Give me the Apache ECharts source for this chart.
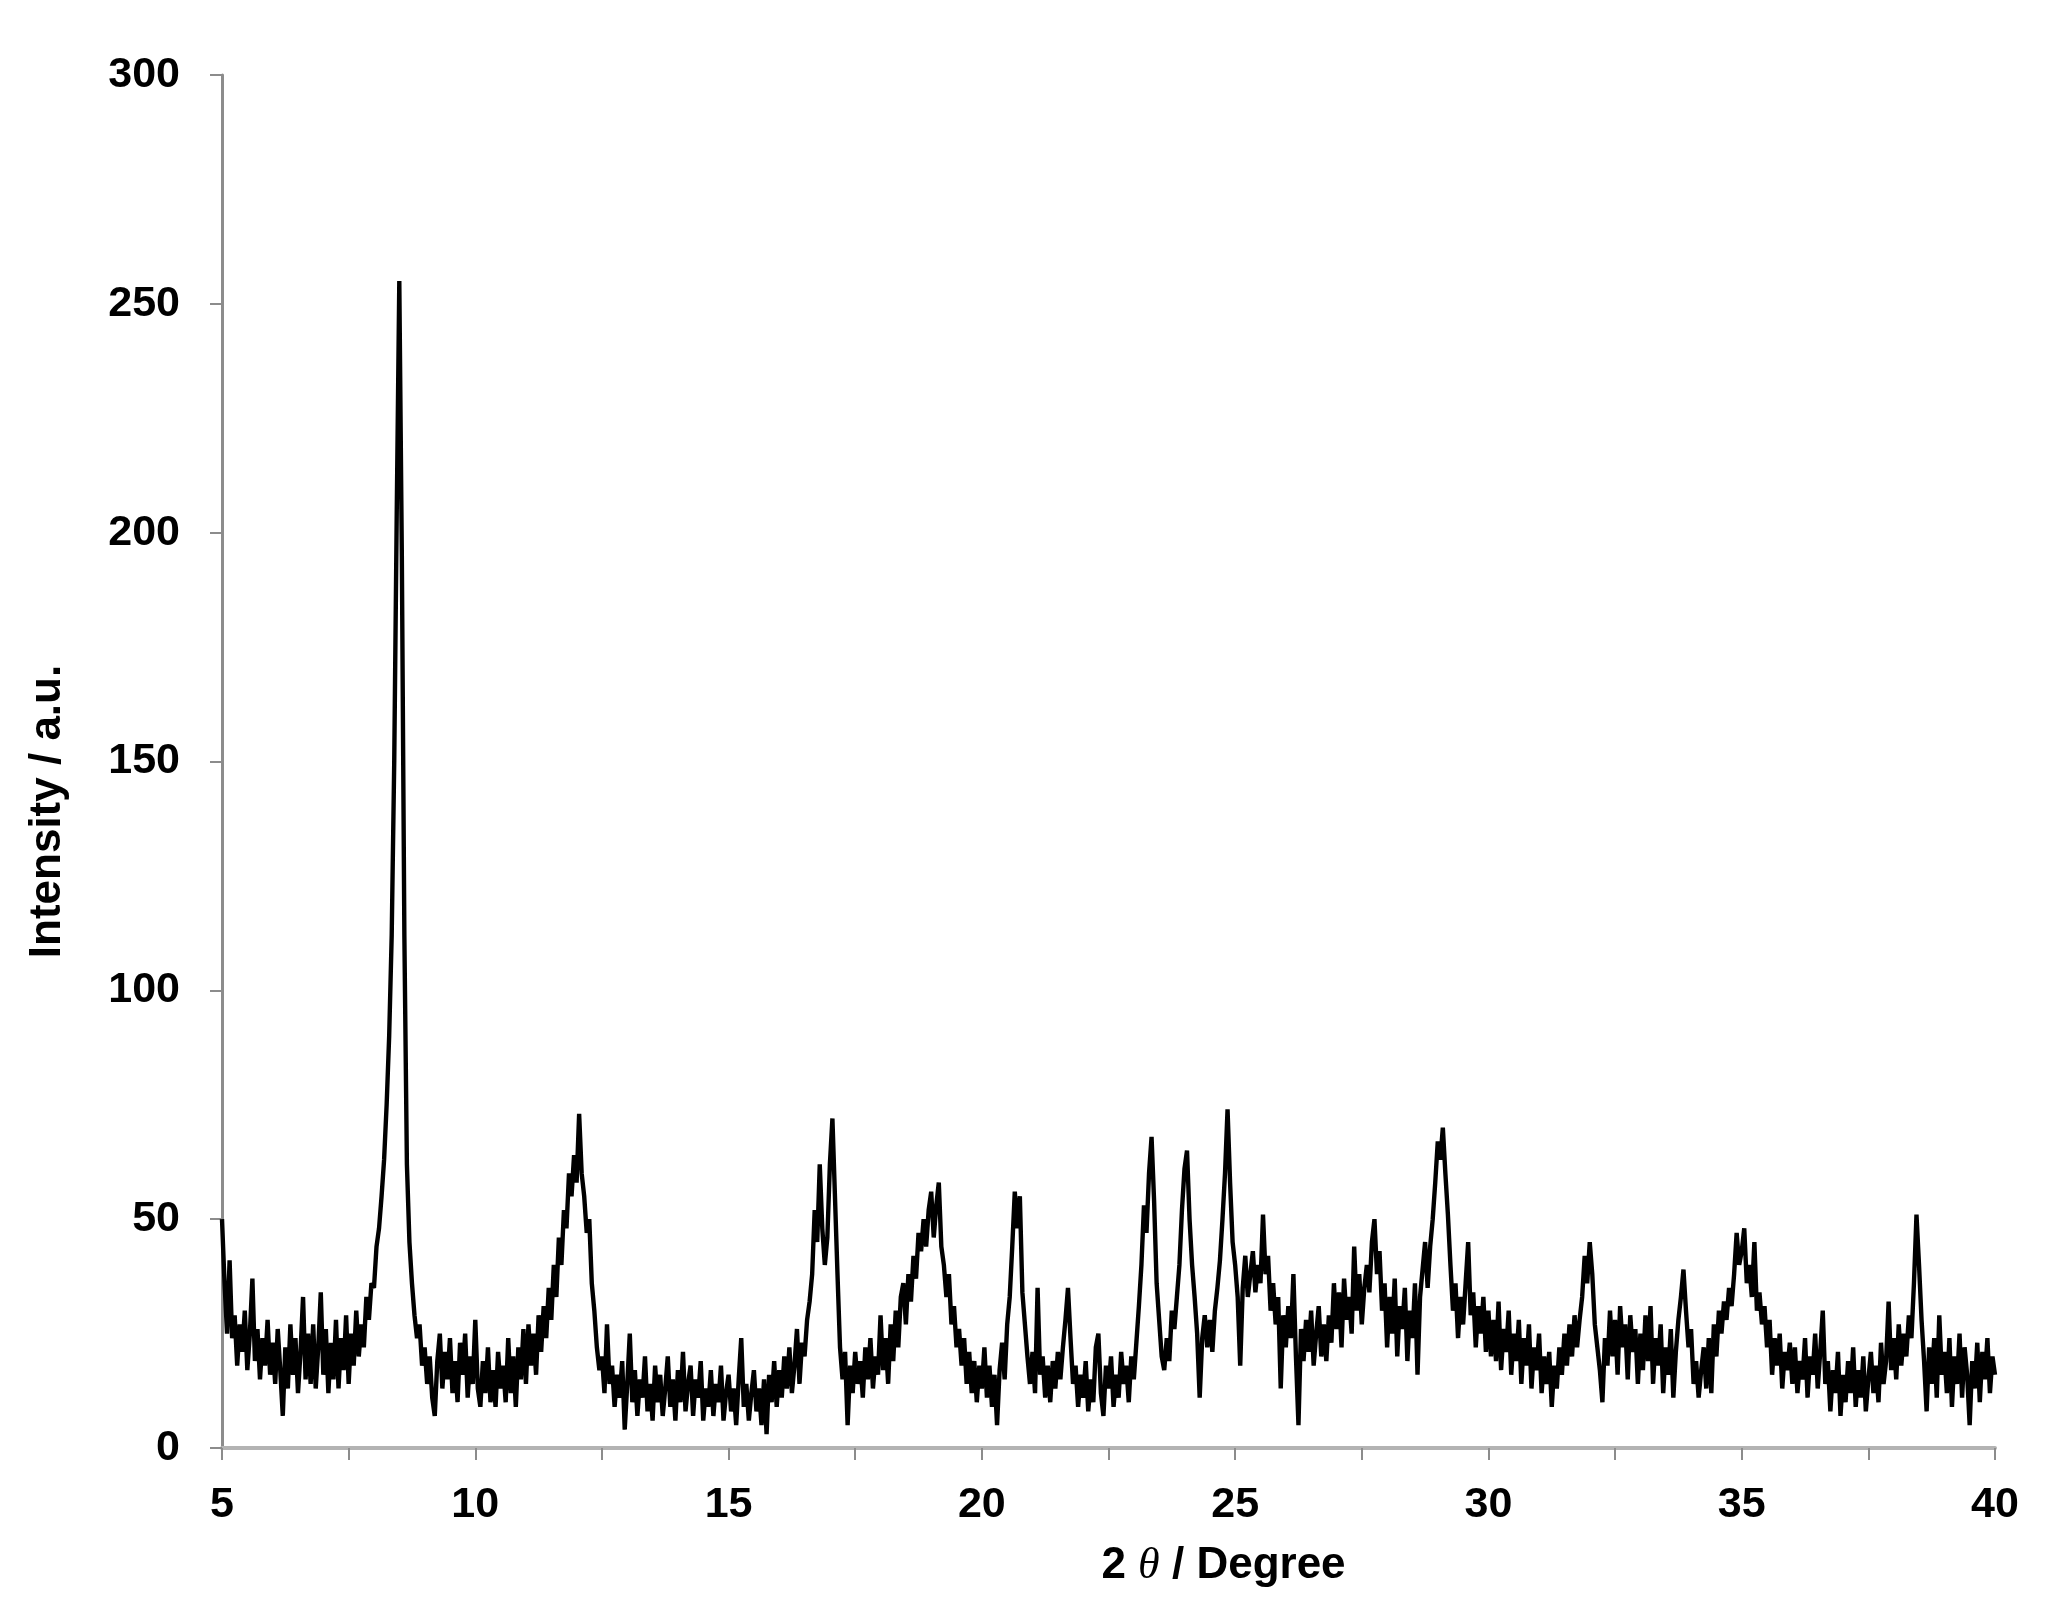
<!DOCTYPE html>
<html>
<head>
<meta charset="utf-8">
<title>XRD pattern</title>
<script src="https://cdn.jsdelivr.net/npm/echarts@6/dist/echarts.min.js"></script>
<style>
  html, body { margin: 0; padding: 0; background: #fff; }
  #chart { width: 2054px; height: 1620px; }
</style>
</head>
<body>
<div id="chart"></div>
<script>
// 2θ scan: starts at 5°, one reading every 0.05°
const angleStart = 5
const angleStep = 0.05

// intensity readings, one row per degree (x.00 ... x.95)
const intensity = [
  // 5
  50, 36, 25, 41, 24, 29, 18, 27, 21, 30, 17, 25, 37, 19, 26, 15, 24, 18, 28, 16,
  // 6
  23, 14, 26, 17, 7, 22, 13, 27, 16, 24, 12, 21, 33, 15, 25, 14, 27, 13, 22, 34,
  // 7
  16, 26, 12, 23, 15, 28, 13, 24, 17, 29, 14, 25, 18, 30, 20, 27, 22, 33, 28, 36,
  // 8
  35, 44, 48, 55, 63, 75, 90, 112, 150, 205, 255, 195, 112, 62, 45, 36, 29, 24, 27, 18,
  // 9
  22, 14, 20, 11, 7, 19, 25, 13, 21, 15, 24, 12, 19, 10, 23, 16, 25, 11, 20, 14,
  // 10
  28, 13, 9, 19, 12, 22, 10, 17, 9, 21, 13, 18, 10, 24, 12, 20, 9, 22, 15, 26,
  // 11
  14, 27, 18, 25, 16, 29, 21, 31, 24, 35, 28, 40, 33, 46, 40, 52, 48, 60, 55, 64,
  // 12
  58, 73, 60, 55, 47, 50, 36, 30, 22, 17, 20, 12, 27, 14, 18, 9, 16, 11, 19, 4,
  // 13
  14, 25, 10, 17, 7, 15, 11, 20, 8, 14, 6, 18, 10, 16, 7, 13, 20, 9, 15, 6,
  // 14
  17, 10, 21, 8, 14, 18, 7, 15, 11, 19, 6, 13, 9, 17, 7, 14, 10, 18, 6, 12,
  // 15
  16, 8, 13, 5, 15, 24, 9, 14, 6, 12, 17, 8, 13, 5, 15, 3, 16, 10, 19, 9,
  // 16
  17, 11, 20, 13, 22, 12, 18, 26, 14, 23, 20, 28, 32, 38, 52, 45, 62, 48, 40, 46,
  // 17
  62, 72, 55, 38, 22, 15, 21, 5, 18, 12, 21, 14, 19, 11, 22, 15, 24, 13, 20, 16,
  // 18
  29, 17, 24, 14, 27, 19, 30, 22, 33, 36, 27, 38, 32, 42, 37, 47, 43, 50, 44, 52,
  // 19
  56, 46, 53, 58, 44, 40, 33, 38, 27, 31, 22, 26, 18, 24, 14, 21, 12, 19, 10, 18,
  // 20
  13, 22, 11, 18, 9, 16, 5, 17, 23, 15, 27, 33, 44, 56, 48, 55, 34, 27, 20, 14,
  // 21
  21, 12, 35, 16, 20, 11, 18, 10, 19, 13, 21, 15, 22, 28, 35, 24, 14, 18, 9, 16,
  // 22
  11, 19, 8, 15, 10, 22, 25, 12, 7, 18, 13, 20, 9, 16, 11, 21, 14, 18, 10, 20,
  // 23
  15, 23, 31, 40, 53, 47, 60, 68, 54, 36, 28, 20, 17, 24, 19, 30, 26, 33, 40, 52,
  // 24
  61, 65, 50, 40, 33, 25, 11, 24, 29, 22, 28, 21, 30, 35, 41, 50, 60, 74, 58, 45,
  // 25
  40, 33, 18, 35, 42, 33, 38, 43, 34, 40, 36, 51, 38, 42, 30, 36, 27, 33, 13, 29,
  // 26
  22, 31, 24, 38, 20, 5, 26, 19, 28, 21, 30, 18, 25, 31, 20, 27, 19, 29, 23, 36,
  // 27
  26, 34, 22, 37, 28, 33, 25, 44, 30, 38, 27, 35, 40, 34, 45, 50, 38, 43, 30, 36,
  // 28
  22, 33, 25, 37, 20, 31, 26, 35, 19, 30, 24, 36, 16, 33, 39, 45, 35, 44, 50, 58,
  // 29
  67, 63, 70, 60, 51, 40, 30, 36, 24, 33, 27, 36, 45, 29, 34, 22, 31, 25, 33, 21,
  // 30
  30, 20, 28, 19, 32, 17, 26, 21, 30, 16, 25, 19, 28, 14, 24, 18, 27, 13, 22, 17,
  // 31
  25, 12, 20, 14, 21, 9, 18, 13, 22, 16, 25, 18, 27, 20, 29, 22, 28, 33, 42, 36,
  // 32
  45, 38, 27, 22, 17, 10, 24, 18, 30, 20, 28, 16, 31, 22, 27, 15, 29, 21, 26, 14,
  // 33
  25, 17, 29, 19, 31, 14, 24, 18, 27, 12, 22, 16, 26, 11, 21, 28, 33, 39, 30, 22,
  // 34
  26, 14, 19, 11, 17, 22, 13, 24, 12, 27, 20, 30, 25, 32, 28, 35, 31, 38, 47, 40,
  // 35
  43, 48, 36, 40, 33, 45, 30, 34, 27, 31, 22, 28, 16, 24, 18, 25, 13, 21, 17, 23,
  // 36
  14, 22, 12, 19, 15, 24, 11, 20, 16, 25, 13, 21, 30, 14, 19, 8, 17, 12, 21, 7,
  // 37
  16, 10, 19, 12, 22, 9, 17, 11, 20, 8, 15, 21, 12, 18, 10, 23, 14, 19, 32, 17,
  // 38
  24, 15, 27, 18, 25, 20, 29, 24, 36, 51, 40, 28, 19, 8, 22, 14, 24, 11, 29, 16,
  // 39
  21, 12, 24, 9, 20, 14, 25, 11, 22, 16, 5, 19, 13, 23, 10, 21, 15, 24, 12, 20,
  // 40
  16
]

const xRange = [5, 40]
const yRange = [0, 300]

const points = intensity.map((v, i) => [+(angleStart + i * angleStep).toFixed(2), v])

const font = "'Liberation Sans', Arial, Helvetica, sans-serif"

const chart = echarts.init(document.getElementById('chart'), null, { renderer: 'canvas' })

const option = {
  backgroundColor: '#ffffff',
  animation: false,
  grid: {
    left: 222,
    right: 59,
    top: 75,
    bottom: 172,
    containLabel: false,
    outerBoundsMode: 'none'
  },
  xAxis: {
    type: 'value',
    min: xRange[0],
    max: xRange[1],
    interval: 5,
    name: '{n|2 }{t|θ}{n| / Degree}',
    nameLocation: 'middle',
    nameGap: 96,
    nameTextStyle: {
      padding: [0, 0, 0, 230],
      rich: {
        n: { fontFamily: font, fontWeight: 'bold', fontSize: 44, color: '#000' },
        t: { fontFamily: "'Liberation Serif', 'Times New Roman', serif", fontStyle: 'italic', fontSize: 44, color: '#000' }
      }
    },
    axisLine: { show: true, onZero: false, lineStyle: { color: '#b3b3b3', width: 4 } },
    axisTick: { show: true, inside: false, length: 12, lineStyle: { color: '#8c8c8c', width: 2 } },
    minorTick: { show: true, splitNumber: 2, length: 12, lineStyle: { color: '#8c8c8c', width: 2 } },
    splitLine: { show: false },
    axisLabel: {
      margin: 36,
      fontFamily: font,
      fontWeight: 'bold',
      fontSize: 43,
      color: '#000'
    }
  },
  yAxis: {
    type: 'value',
    min: yRange[0],
    max: yRange[1],
    interval: 50,
    name: 'Intensity / a.u.',
    nameLocation: 'middle',
    nameGap: 152,
    nameTextStyle: {
      fontFamily: font,
      fontWeight: 'bold',
      fontSize: 44,
      color: '#000',
      padding: [0, 100, 0, 0]
    },
    axisLine: { show: true, onZero: false, lineStyle: { color: '#8c8c8c', width: 3 } },
    axisTick: { show: true, inside: false, length: 12, lineStyle: { color: '#8c8c8c', width: 2 } },
    splitLine: { show: false },
    axisLabel: {
      margin: 42,
      fontFamily: font,
      fontWeight: 'bold',
      fontSize: 43,
      color: '#000'
    }
  },
  series: [
    {
      name: 'XRD',
      type: 'line',
      data: points,
      showSymbol: false,
      symbol: 'none',
      sampling: 'none',
      clip: true,
      lineStyle: { color: '#000', width: 4.4, join: 'miter', miterLimit: 2 }
    }
  ]
}

chart.setOption(option)
window.onresize = function () {
  chart.resize()
}
</script>
</body>
</html>
